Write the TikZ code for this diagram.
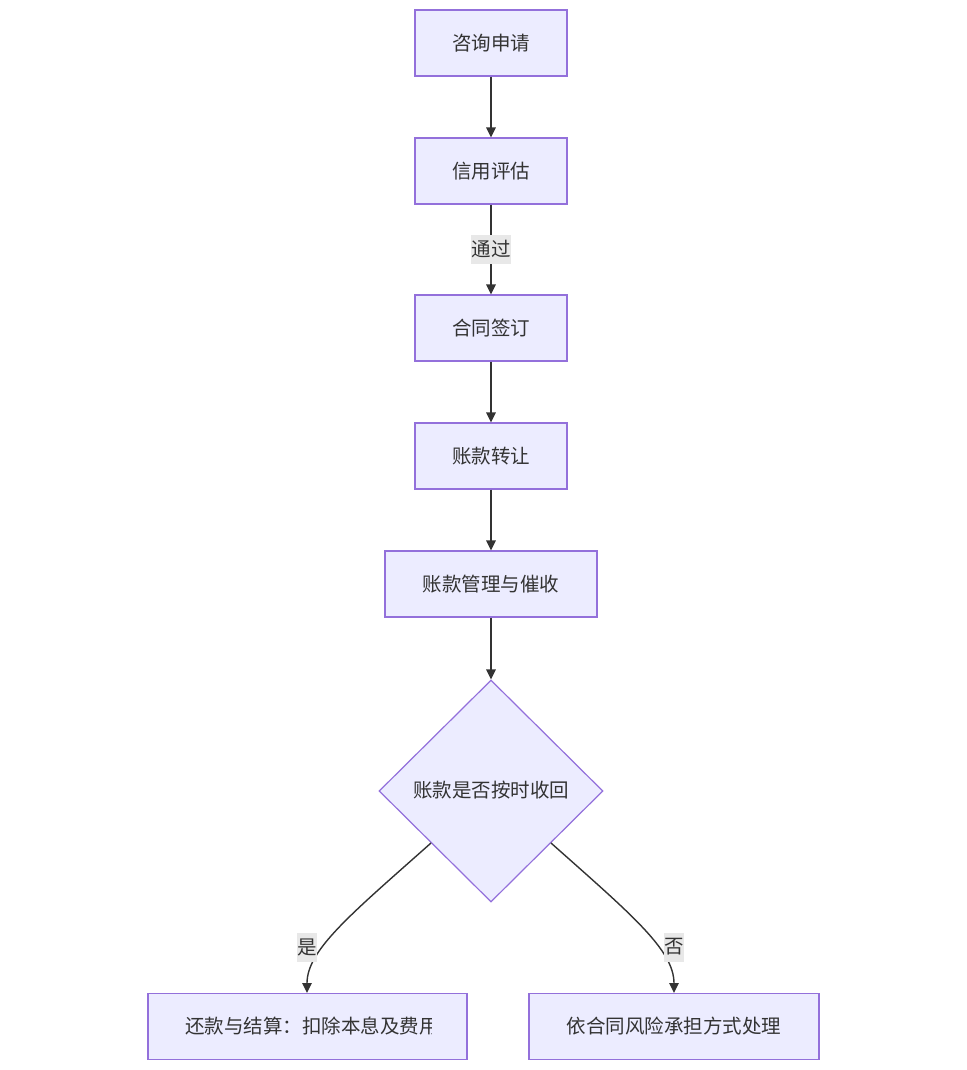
\documentclass[tikz,border=0pt]{standalone}
\usepackage{fontspec}
\setmainfont{Noto Sans CJK SC}
\usetikzlibrary{arrows.meta,shapes.geometric}
\definecolor{boxfill}{HTML}{ECECFF}
\definecolor{boxline}{HTML}{9370DB}
\definecolor{edgec}{HTML}{333333}
\definecolor{lblbg}{HTML}{E8E8E8}
\begin{document}
\begin{tikzpicture}[x=1pt,y=-1pt,
  every node/.style={font=\fontsize{19.5}{23}\selectfont, text=edgec},
  box/.style={draw=boxline, fill=boxfill, line width=1.2pt, minimum height=66pt, inner sep=0pt},
  dec/.style={diamond, draw=boxline, fill=boxfill, line width=1.2pt, minimum width=224pt, minimum height=222pt, inner sep=0pt, aspect=1},
  edge/.style={draw=edgec, line width=1.4pt, -{Triangle[length=10pt,width=9.5pt]}},
  lbl/.style={fill=lblbg, inner xsep=0.5pt, inner ysep=0pt, minimum height=29pt}]
\useasboundingbox (0,0) rectangle (966,1070);
\node[box, minimum width=152pt] (a) at (491,43) {咨询申请};
\node[box, minimum width=152pt] (b) at (491,171) {信用评估};
\node[box, minimum width=152pt] (c) at (491,328) {合同签订};
\node[box, minimum width=152pt] (d) at (491,456) {账款转让};
\node[box, minimum width=212pt] (e) at (491,584) {账款管理与催收};
\node[dec] (f) at (491,791) {};
\node (ft) at (491,790) {账款是否按时收回};
\node[box, minimum width=319pt] (g) at (307.5,1026.5) {};
\begin{scope}
\clip (180,1000) rectangle (431,1055);
\node[anchor=west, inner sep=0pt] (gt) at (185,1026) {还款与结算：扣除本息及费用};
\end{scope}
\node[box, minimum width=290pt] (h) at (674,1026.5) {依合同风险承担方式处理};
\coordinate (fl) at (431,843);
\coordinate (fr) at (551,843);
\coordinate (gin) at (307,993);
\coordinate (hin) at (674,993);
\draw[edge] (a) -- (b);
\draw[edge] (b) -- node[lbl] (l1) {通过} (c);
\draw[edge] (c) -- (d);
\draw[edge] (d) -- (e);
\draw[edge] (e) -- (f);
\draw[edge] (fl) .. controls (350,915) and (307,950) .. (gin);
\draw[edge] (fr) .. controls (632,915) and (674,950) .. (hin);
\node[lbl] (l2) at (307,947) {是};
\node[lbl] (l3) at (674,947) {否};
\end{tikzpicture}
\end{document}
